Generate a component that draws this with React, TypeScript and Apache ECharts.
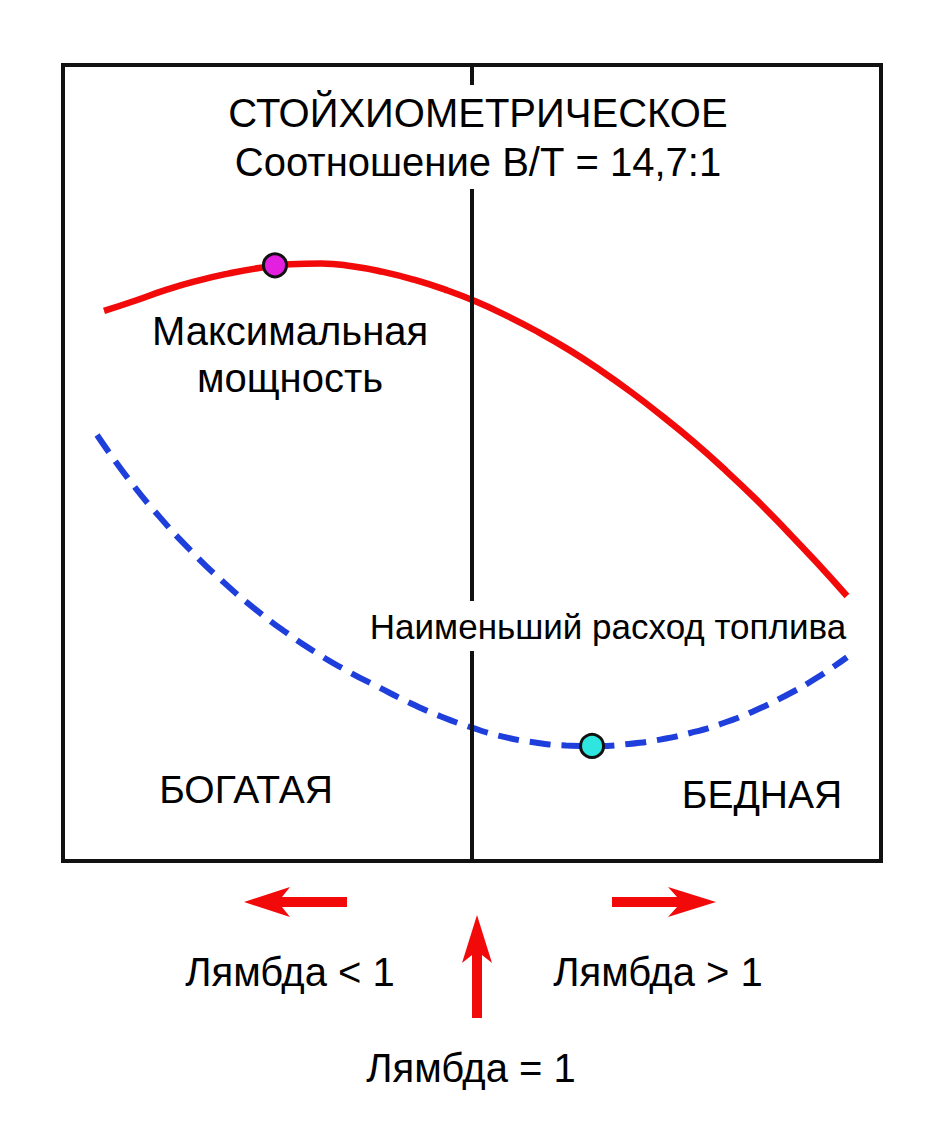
import React, { useEffect, useRef } from "react";
import * as echarts from "echarts";

// Lambda (excess-air ratio) positions and relative values
const lambdaPower = [0.6401, 0.6704, 0.7007, 0.7311, 0.7614, 0.7917, 0.8220, 0.8523, 0.8826, 0.9130, 0.9433, 0.9736, 1.0039, 1.0342, 1.0645, 1.0949, 1.1252, 1.1555, 1.1858, 1.2161, 1.2465, 1.2768, 1.3071, 1.3374, 1.3667];
const powerValues = [69.10, 70.38, 71.75, 72.88, 73.79, 74.50, 74.96, 75.06, 74.72, 74.01, 73.03, 71.78, 70.28, 68.49, 66.47, 64.21, 61.68, 58.92, 55.92, 52.73, 49.25, 45.55, 41.58, 37.46, 33.29];

const lambdaEconomy = [0.6333, 0.6636, 0.6949, 0.7252, 0.7555, 0.7858, 0.8171, 0.8474, 0.8778, 0.9081, 0.9394, 0.9697, 1.0, 1.0303, 1.0616, 1.0919, 1.1222, 1.1526, 1.1839, 1.2142, 1.2445, 1.2748, 1.3061, 1.3364, 1.3667];
const economyValues = [53.52, 48.07, 43.17, 38.96, 35.21, 31.86, 28.81, 26.19, 23.89, 21.87, 19.86, 18.15, 16.75, 15.62, 14.89, 14.51, 14.45, 14.69, 15.25, 16.11, 17.27, 18.79, 20.73, 22.95, 25.60];

const maxPowerPoint = [0.8073, 74.83];
const minFuelPoint = [1.1174, 14.45];
const stoichLambda = 1;

const titleLines = ["СТОЙХИОМЕТРИЧЕСКОЕ", "Соотношение В/Т = 14,7:1"];
const powerLabelLines = ["Максимальная", "мощность"];
const economyLabel = "Наименьший расход топлива";
const richLabel = "БОГАТАЯ";
const leanLabel = "БЕДНАЯ";
const lambdaLess = "Лямбда < 1";
const lambdaMore = "Лямбда > 1";
const lambdaEqual = "Лямбда = 1";

const FONT = "'Liberation Sans', Arial, Helvetica, sans-serif";

function txt(text: string, x: number, y: number, size: number, extra: any = {}) {
  return {
    type: "text",
    x,
    y,
    z: 100,
    silent: true,
    style: {
      text,
      fontSize: size,
      fontFamily: FONT,
      fill: "#000",
      align: "center",
      verticalAlign: "middle",
      ...extra,
    },
  };
}

function poly(points: number[][]) {
  return {
    type: "polygon",
    z: 100,
    silent: true,
    shape: { points },
    style: { fill: "#f20a0a" },
  };
}

export default function App() {
  const ref = useRef<HTMLDivElement>(null);

  useEffect(() => {
    if (!ref.current) return;
    const chart = echarts.init(ref.current, undefined, { renderer: "svg" });

    const option: any = {
      animation: false,
      backgroundColor: "#fff",
      grid: {
        left: 63,
        right: 63,
        top: 65,
        bottom: 266,
        show: true,
        borderColor: "#111",
        borderWidth: 4,
        backgroundColor: "transparent",
      },
      xAxis: {
        type: "value",
        min: 0.6,
        max: 1.4,
        axisLine: { show: false },
        axisTick: { show: false },
        axisLabel: { show: false },
        splitLine: { show: false },
      },
      yAxis: {
        type: "value",
        min: 0,
        max: 100,
        axisLine: { show: false },
        axisTick: { show: false },
        axisLabel: { show: false },
        splitLine: { show: false },
      },
      series: [
        {
          type: "line",
          name: "Мощность",
          data: lambdaPower.map((l, i) => [l, powerValues[i]]),
          smooth: 0.5,
          showSymbol: false,
          z: 2,
          lineStyle: { color: "#f20a0a", width: 6.5 },
        },
        {
          type: "line",
          name: "Расход",
          data: lambdaEconomy.map((l, i) => [l, economyValues[i]]),
          smooth: 0.5,
          showSymbol: false,
          z: 2,
          lineStyle: { color: "#1f3fdc", width: 6, type: [21, 11] },
        },
        {
          type: "line",
          name: "Стехиометрия",
          data: [],
          z: 4,
          markLine: {
            silent: true,
            symbol: "none",
            label: { show: false },
            lineStyle: { color: "#111", width: 4, type: "solid" },
            data: [{ xAxis: stoichLambda }],
          },
        },
        {
          type: "scatter",
          z: 10,
          data: [
            { value: maxPowerPoint, itemStyle: { color: "#e51fe0" } },
            { value: minFuelPoint, itemStyle: { color: "#2ee6df" } },
          ],
          symbol: "circle",
          symbolSize: 23,
          itemStyle: { borderColor: "#111", borderWidth: 3, opacity: 1 },
        },
      ],
      graphic: [
        txt(titleLines.join("\n"), 478, 137, 40, {
          lineHeight: 49,
          backgroundColor: "#fff",
          padding: [3, 6],
        }),
        txt(powerLabelLines.join("\n"), 290, 354, 40, { lineHeight: 47 }),
        txt(economyLabel, 608, 626, 35, {
          lineHeight: 36,
          backgroundColor: "#fff",
          padding: [7, 4],
        }),
        txt(richLabel, 246, 789, 39),
        txt(leanLabel, 762, 794, 39),
        poly([
          [244, 902],
          [290, 887],
          [282, 897],
          [347, 897],
          [347, 907],
          [282, 907],
          [290, 917],
        ]),
        poly([
          [716, 902],
          [668, 887],
          [677, 897],
          [612, 897],
          [612, 907],
          [677, 907],
          [668, 917],
        ]),
        poly([
          [477, 915],
          [492, 963],
          [482, 955],
          [482, 1018],
          [472, 1018],
          [472, 955],
          [462, 963],
        ]),
        txt(lambdaLess, 290, 972, 40),
        txt(lambdaMore, 658, 972, 40),
        txt(lambdaEqual, 471, 1068, 40),
      ],
    };

    chart.setOption(option);
    return () => chart.dispose();
  }, []);

  return (
    <div
      ref={ref}
      style={{ position: "absolute", left: 0, top: 0, width: 944, height: 1127, background: "#fff" }}
    />
  );
}
